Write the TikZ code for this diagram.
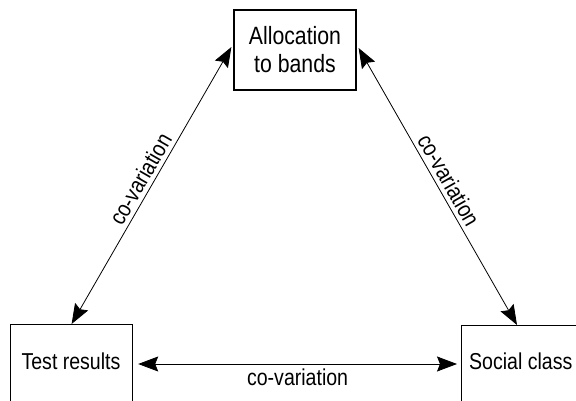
\documentclass[tikz,border=0pt]{standalone}
\usepackage{fontspec}
\setmainfont[FakeStretch=0.85]{Liberation Sans}
\usetikzlibrary{arrows.meta}
\begin{document}
\begin{tikzpicture}[x=1pt,y=-1pt,
  every node/.style={font=\fontsize{23}{28}\selectfont},
  box/.style={draw,line width=1.2pt,rectangle,inner sep=0pt},
  link/.style={line width=0.8pt,{Stealth[length=20pt,width=15pt,inset=3pt]}-{Stealth[length=20pt,width=15pt,inset=3pt]}},
  lbl/.style={inner sep=4pt}]
\useasboundingbox (0,0) rectangle (576,401);
\clip (0,0) rectangle (576,401);
% three boxes
\node[box,minimum width=122pt,minimum height=80pt,align=center,
      font=\fontsize{25}{28}\selectfont] (top) at (295,50) {Allocation\\to bands};
\node[box,minimum width=122pt,minimum height=120pt,anchor=north west] (tr) at (10,324) {};
\node[box,minimum width=140pt,minimum height=120pt,anchor=north west] (sc) at (461,325) {};
\node (trtext) at (71,361) {Test results};
\node[anchor=west,inner sep=0pt] (sctext) at (469,361) {Social class};
% co-variation links
\draw[link] (tr.north) -- node[lbl,sloped,above] {co-variation} ([xshift=-2pt,yshift=3pt]top.west);
\draw[link] ([xshift=2pt,yshift=2pt]top.east) -- node[lbl,sloped,above] {co-variation} ([xshift=56pt]sc.north west);
\draw[link] ([xshift=5pt,yshift=-40pt]tr.north east) -- node[lbl,below] {co-variation} ([xshift=-4pt,yshift=-39pt]sc.north west);
\end{tikzpicture}
\end{document}
